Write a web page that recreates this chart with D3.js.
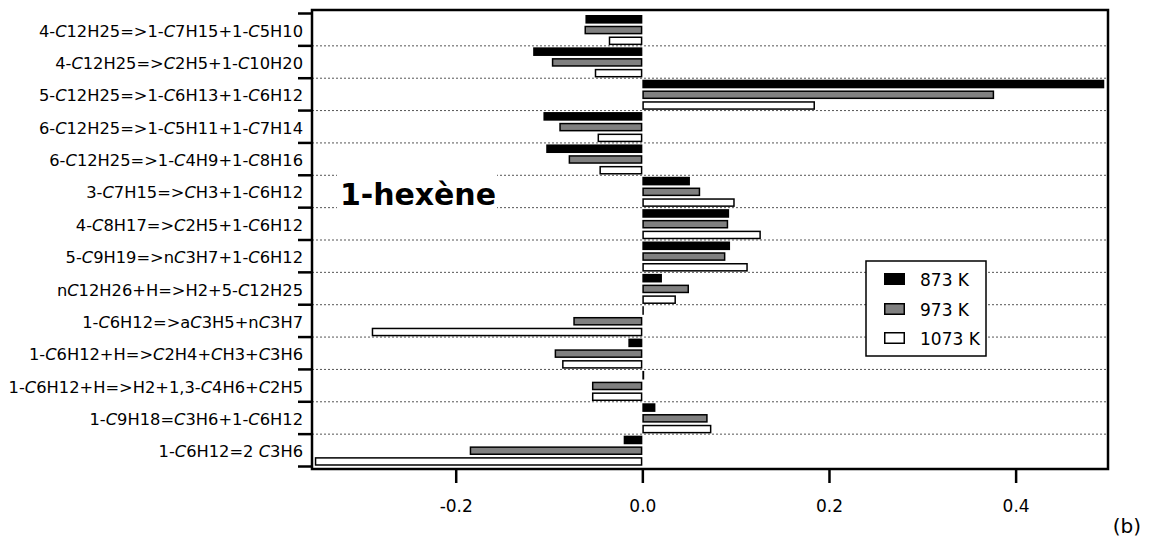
<!DOCTYPE html>
<html><head><meta charset="utf-8">
<script src="https://cdn.jsdelivr.net/npm/d3@7"></script>
<style>body{margin:0;background:#fff}svg{display:block}</style>
</head><body><svg id="c" width="1149" height="540"></svg>
<script>
const categories = [
"4-C12H25=>1-C7H15+1-C5H10",
"4-C12H25=>C2H5+1-C10H20",
"5-C12H25=>1-C6H13+1-C6H12",
"6-C12H25=>1-C5H11+1-C7H14",
"6-C12H25=>1-C4H9+1-C8H16",
"3-C7H15=>CH3+1-C6H12",
"4-C8H17=>C2H5+1-C6H12",
"5-C9H19=>nC3H7+1-C6H12",
"nC12H26+H=>H2+5-C12H25",
"1-C6H12=>aC3H5+nC3H7",
"1-C6H12+H=>C2H4+CH3+C3H6",
"1-C6H12+H=>H2+1,3-C4H6+C2H5",
"1-C9H18=C3H6+1-C6H12",
"1-C6H12=2 C3H6"];
const seriesNames = ["873 K","973 K","1073 K"];
const v873  = [-0.061,-0.117,0.495,-0.106,-0.103,0.051,0.093,0.094,0.021,0.0015,-0.015,0.002,0.014,-0.020];
const v973  = [-0.062,-0.097,0.377,-0.089,-0.079,0.062,0.092,0.089,0.050,-0.074,-0.094,-0.054,0.070,-0.185];
const v1073 = [-0.036,-0.051,0.185,-0.048,-0.046,0.099,0.127,0.113,0.036,-0.290,-0.086,-0.054,0.074,-0.351];
const xTicks = [-0.2,0.0,0.2,0.4];
const fills = ["#000","#808080","#fff"];

const values = [v873,v973,v1073];
const svg = d3.select("#c");
const L=312,T=10,R=1108,B=469;
const x = d3.scaleLinear().domain([-0.354,0.499]).range([L,R]);
const y0 = d3.scaleBand().domain(categories).range([13.5,466.5]);
const y1 = d3.scaleBand().domain(seriesNames).range([1.5,31.6]).paddingInner(0.2);
const font = "'DejaVu Sans', sans-serif";

// gridlines between categories
svg.append("g").selectAll("line").data(categories.slice(1)).join("line")
  .attr("x1",L).attr("x2",R).attr("y1",d=>y0(d)).attr("y2",d=>y0(d))
  .attr("stroke","#555").attr("stroke-width",1).attr("stroke-dasharray","2,2");

// bars
const gb = svg.append("g");
categories.forEach((c,i)=>{
  seriesNames.forEach((s,j)=>{
    const v = values[j][i];
    const xa = Math.min(x(v),x(0)), w = Math.max(Math.abs(x(v)-x(0)),1.5);
    const yy = y0(c)+y1(s), h = y1.bandwidth();
    if(j===0){
      gb.append("rect").attr("x",xa).attr("y",yy).attr("width",w).attr("height",h).attr("fill","#000");
    } else {
      gb.append("rect").attr("x",xa+0.75).attr("y",yy+0.75).attr("width",Math.max(w-1.5,0.5)).attr("height",h-1.5)
        .attr("fill",fills[j]).attr("stroke","#000").attr("stroke-width",1.5);
    }
  });
});

// 1-hexène label with white background
svg.append("rect").attr("x",337).attr("y",171).attr("width",160).attr("height",40).attr("fill","#fff");
svg.append("text").attr("x",340).attr("y",205).attr("font-family",font).attr("font-weight","bold")
  .attr("font-size",30).attr("textLength",156).attr("fill","#000").text("1-hexène");

// frame
svg.append("rect").attr("x",L).attr("y",T).attr("width",R-L).attr("height",B-T)
  .attr("fill","none").attr("stroke","#000").attr("stroke-width",2.5);

// y ticks at band boundaries
const bounds = categories.map(c=>y0(c)).concat([y0.range()[1]]);
svg.append("g").selectAll("line").data(bounds).join("line")
  .attr("x1",L-14).attr("x2",L).attr("y1",d=>d).attr("y2",d=>d)
  .attr("stroke","#000").attr("stroke-width",2.5);

// category labels, C italic
const lab = svg.append("g").attr("font-family",font).attr("font-size",16.3).attr("fill","#000");
categories.forEach(c=>{
  const t = lab.append("text").attr("x",303).attr("y",y0(c)+y0.bandwidth()/2+1)
    .attr("text-anchor","end").attr("dominant-baseline","central");
  c.split(/(C)/).filter(p=>p.length).forEach(p=>{
    const ts = t.append("tspan").text(p);
    if(p==="C") ts.attr("font-style","italic");
  });
});

// x axis
const ax = svg.append("g").attr("transform",`translate(0,${B})`)
  .call(d3.axisBottom(x).tickValues(xTicks).tickFormat(d=>d.toFixed(1)).tickSize(14).tickPadding(17));
ax.select(".domain").remove();
ax.selectAll(".tick line").attr("stroke","#000").attr("stroke-width",2.5);
ax.selectAll(".tick text").attr("font-family",font).attr("font-size",17).attr("fill","#000");

// legend
const lg = svg.append("g");
lg.append("rect").attr("x",866).attr("y",261).attr("width",120).attr("height",95)
  .attr("fill","#fff").attr("stroke","#000").attr("stroke-width",1.5);
const ly = [279,309,338];
seriesNames.forEach((s,j)=>{
  if(j===0) lg.append("rect").attr("x",884).attr("y",ly[j]-6).attr("width",21).attr("height",12).attr("fill","#000");
  else lg.append("rect").attr("x",884.75).attr("y",ly[j]-5.25).attr("width",19.5).attr("height",10.5)
        .attr("fill",fills[j]).attr("stroke","#000").attr("stroke-width",1.5);
  lg.append("text").attr("x",920).attr("y",ly[j]+1).attr("dominant-baseline","central")
    .attr("font-family",font).attr("font-size",17).attr("fill","#000").text(s);
});

svg.append("text").attr("x",1141).attr("y",533).attr("text-anchor","end")
  .attr("font-family",font).attr("font-size",20).attr("fill","#000").text("(b)");
</script></body></html>
